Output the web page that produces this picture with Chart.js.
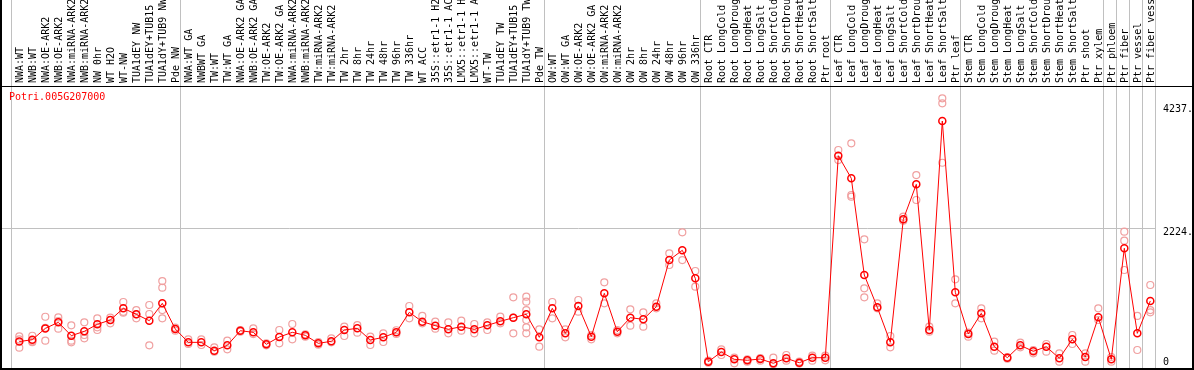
<!DOCTYPE html>
<html><head><meta charset="utf-8">
<script src="https://cdn.jsdelivr.net/npm/chart.js@4.4.1/dist/chart.umd.min.js"></script>
<style>html,body{margin:0;padding:0;background:#fff;}canvas{display:block;}</style>
</head><body>
<canvas id="c" width="1194" height="370"></canvas>
<script>
const geneTitle = 'Potri.005G207000';

const categories = [
 'NWA:WT','NWB:WT','NWA:OE-ARK2','NWB:OE-ARK2','NWA:miRNA-ARK2','NWB:miRNA-ARK2','NW 0hr','WT H2O','WT-NW','TUA1dEY NW','TUA1dEY+TUB15 NW','TUA1dY+TUB9 NW','Pde NW',
 'NWA:WT GA','NWBWT GA','TW:WT','TW:WT GA','NWA:OE-ARK2 GA','NWB:OE-ARK2 GA','TW:OE-ARK2','TW:OE-ARK2 GA','NWA:miRNA-ARK2 GA','NWB:miRNA-ARK2 GA','TW:miRNA-ARK2','TW:miRNA-ARK2 GA','TW 2hr','TW 8hr','TW 24hr','TW 48hr','TW 96hr','TW 336hr','WT ACC','35S::etr1-1 H2O','35S::etr1-1 ACC','LMX5::etr1-1 H2O','LMX5::etr1-1 ACC','WT-TW','TUA1dEY TW','TUA1dEY+TUB15 TW','TUA1dY+TUB9 TW','Pde TW',
 'OW:WT','OW:WT GA','OW:OE-ARK2','OW:OE-ARK2 GA','OW:miRNA-ARK2','OW:miRNA-ARK2 GA','OW 2hr','OW 8hr','OW 24hr','OW 48hr','OW 96hr','OW 336hr',
 'Root CTR','Root LongCold','Root LongDrought','Root LongHeat','Root LongSalt','Root ShortCold','Root ShortDrought','Root ShortHeat','Root ShortSalt','Ptr root',
 'Leaf CTR','Leaf LongCold','Leaf LongDrought','Leaf LongHeat','Leaf LongSalt','Leaf ShortCold','Leaf ShortDrought','Leaf ShortHeat','Leaf ShortSalt','Ptr leaf',
 'Stem CTR','Stem LongCold','Stem LongDrought','Stem LongHeat','Stem LongSalt','Stem ShortCold','Stem ShortDrought','Stem ShortHeat','Stem ShortSalt','Ptr shoot','Ptr xylem',
 'Ptr phloem','Ptr fiber','Ptr vessel','Ptr fiber vessel'
];

// index of the first sample of each group (plus the end), where grey separators are drawn
const groupStarts = [0, 13, 41, 53, 63, 73, 84, 85, 86, 87, 88];

const meanValues = [
 375,405,590,689,471,542,656,727,918,820,716,1000,580,
 362,362,226,313,552,526,330,449,526,477,346,379,564,591,400,444,526,853,700,635,575,618,575,640,705,765,820,444,
 918,509,956,455,1163,536,765,738,945,1707,1866,1408,
 46,204,85,69,90,20,101,29,111,111,
 3412,3042,1462,935,362,2372,2944,564,3979,1180,
 498,837,291,111,313,215,291,101,412,123,771,
 85,1899,509,1038
];

const rep1 = [
 460,470,780,770,640,689,754,765,1021,890,972,1364,601,
 412,412,281,389,564,591,346,564,662,493,368,428,618,645,455,509,560,956,793,700,689,716,662,689,781,1098,1108,575,
 1021,575,1054,482,1343,564,902,853,1000,1817,2160,1528,
 62,248,111,85,106,111,155,46,144,144,
 3505,3614,2046,1000,466,2415,3096,618,4350,1392,
 520,918,373,123,356,237,335,183,482,183,918,
 123,2170,793,1299
];
const rep2 = [
 410,380,600,710,389,482,607,727,847,820,825,1255,552,
 335,319,209,248,536,498,313,346,412,455,324,362,466,520,319,368,500,754,673,585,509,552,509,564,673,765,1026,291,
 754,444,863,412,1000,509,635,618,918,1626,1707,1271,
 30,155,20,46,62,5,62,15,62,68,
 3341,2770,1245,918,281,2350,2688,536,4268,1000,
 455,754,226,95,281,183,209,46,335,46,727,
 46,2023,237,890
];
const rep3 = [
 275,365,390,585,362,428,564,673,860,754,313,890,null,
 null,null,null,null,null,null,null,null,null,null,null,null,null,null,null,null,null,null,null,null,null,null,null,null,null,509,890,null,
 null,null,null,null,null,null,null,null,null,null,null,null,
 null,null,null,null,null,null,null,null,null,null,
 null,2742,1098,null,null,null,null,null,3297,null,
 null,null,null,null,null,null,null,null,null,null,null,
 null,1544,null,853
];
// further replicates: [sample index, value]
const extraReps = [[11, 754], [39, 727], [39, 607], [39, 509]];

const yTickValues = [0, 2224, 4237];
const yTickLabels = ['0', '2224.', '4237.'];

const xMin = -1.4077, xMax = 87.438;
const yMin = -73.5, yMax = 4551;
const MONO = '"DejaVu Sans Mono", "Liberation Mono", monospace';
const PINK = '#f0a0a0';

function toPts(arr) {
  const out = [];
  arr.forEach((v, i) => { if (v !== null && v !== undefined) out.push({x: i, y: v}); });
  return out;
}

const repStyle = {
  type: 'scatter', showLine: false, pointRadius: 3.5, pointHoverRadius: 3.5,
  pointBorderColor: PINK, pointBackgroundColor: 'rgba(0,0,0,0)', pointBorderWidth: 1.2,
  xAxisID: 'x', yAxisID: 'y'
};

const framePlugin = {
  id: 'frame',
  afterDraw(chart) {
    const ctx = chart.ctx, a = chart.chartArea;
    ctx.save();
    ctx.fillStyle = '#000';
    ctx.fillRect(0, 0, 2, 370);
    ctx.fillRect(1192, 0, 2, 370);
    ctx.fillRect(0, 368, 1194, 2);
    ctx.fillRect(0, a.top, 1194, 1);
    ctx.fillStyle = '#ff0000';
    ctx.font = '10px ' + MONO;
    ctx.textBaseline = 'middle';
    ctx.textAlign = 'left';
    ctx.fillText(geneTitle, 9, 97);
    ctx.restore();
  }
};

new Chart(document.getElementById('c'), {
  data: {
    datasets: [
      { type: 'line', data: toPts(meanValues), borderColor: '#ff0000', borderWidth: 1, tension: 0,
        pointRadius: 3.5, pointHoverRadius: 3.5, pointBorderColor: '#ff0000', pointBackgroundColor: 'rgba(0,0,0,0)',
        pointBorderWidth: 1.5, xAxisID: 'x', yAxisID: 'y' },
      Object.assign({ data: toPts(rep1) }, repStyle),
      Object.assign({ data: toPts(rep2) }, repStyle),
      Object.assign({ data: toPts(rep3) }, repStyle),
      Object.assign({ data: extraReps.map(p => ({x: p[0], y: p[1]})) }, repStyle)
    ]
  },
  options: {
    responsive: false, animation: false, devicePixelRatio: 1,
    layout: { autoPadding: false, padding: { left: 1, right: 1, top: 0, bottom: 1 } },
    plugins: { legend: { display: false }, tooltip: { enabled: false }, title: { display: false } },
    scales: {
      x: {
        type: 'linear', position: 'top', min: xMin, max: xMax, weight: 1,
        afterBuildTicks: s => { s.ticks = categories.map((_, i) => ({ value: i })); },
        afterFit: s => { s.height = 86; s.paddingLeft = 0; s.paddingRight = 0; },
        ticks: { autoSkip: false, minRotation: 90, maxRotation: 90, padding: 3, labelOffset: 13, color: '#000',
          font: { family: MONO, size: 10 }, callback: v => categories[v] ?? '' },
        grid: { display: false, drawTicks: false },
        border: { display: false }
      },
      xg: {
        type: 'linear', position: 'top', min: xMin, max: xMax, weight: 0,
        afterBuildTicks: s => { s.ticks = groupStarts.map(k => ({ value: k - 8 / 13 })); },
        afterFit: s => { s.height = 0; s.paddingLeft = 0; s.paddingRight = 0; },
        ticks: { display: false },
        grid: { color: '#c0c0c0', tickColor: '#c0c0c0', tickLength: 86, drawTicks: true, lineWidth: 1 },
        border: { display: false }
      },
      y: {
        type: 'linear', position: 'right', min: yMin, max: yMax,
        afterBuildTicks: s => { s.ticks = yTickValues.map(v => ({ value: v })); },
        afterFit: s => { s.width = 37; s.paddingTop = 0; s.paddingBottom = 0; },
        ticks: { padding: 7, color: '#000', labelOffset: 4,
          font: { family: MONO, size: 10, lineHeight: 1.3 },
          callback: v => { const t = yTickLabels[yTickValues.indexOf(v)]; return v === 0 ? [t, ''] : t; } },
        grid: { drawTicks: false, color: c => (c.tick && c.tick.value === 2224) ? '#c0c0c0' : 'rgba(0,0,0,0)' },
        border: { display: false }
      }
    }
  },
  plugins: [framePlugin]
});
</script>
</body></html>
